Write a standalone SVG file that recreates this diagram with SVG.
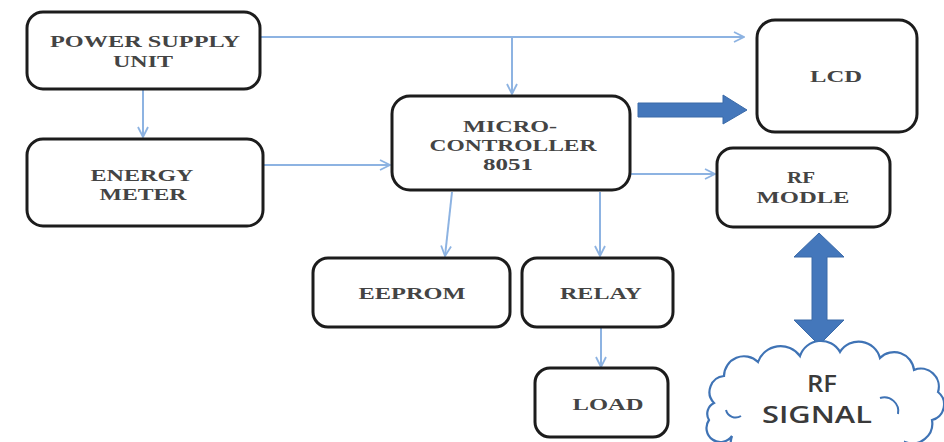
<svg xmlns="http://www.w3.org/2000/svg" width="944" height="442" viewBox="0 0 944 442">
  <style>
    .box { fill: #ffffff; stroke: #1c1c1c; stroke-width: 3; }
    .lbl { font-family: "Liberation Serif", "Times New Roman", serif; font-size: 17px; font-weight: bold; fill: #444444; text-anchor: middle; }
    .wire { fill: none; stroke: #8db3e2; stroke-width: 2; }
    .bus { fill: #4477bb; stroke: #3a6aa8; stroke-width: 1; }
    .cloud { fill: #ffffff; stroke: #3f73b5; stroke-width: 2.2; }
    .cloudtxt { font-family: "Open Sans", "Liberation Sans", sans-serif; font-size: 23px; font-weight: 600; fill: #3a3a3a; text-anchor: middle; }
  </style>
  <defs>
    <marker id="open" viewBox="0 0 12 12" refX="11" refY="6" markerWidth="12" markerHeight="12" markerUnits="userSpaceOnUse" orient="auto">
      <polyline points="1,1 11,6 1,11" fill="none" stroke="#8db3e2" stroke-width="1.8"/>
    </marker>
  </defs>
  <rect width="944" height="442" fill="#ffffff"/>

  <!-- connectors -->
  <g id="connectors">
    <line class="wire" x1="143" y1="90" x2="143" y2="137" marker-end="url(#open)"/>
    <line class="wire" x1="261" y1="37" x2="744" y2="37" marker-end="url(#open)"/>
    <line class="wire" x1="512" y1="37" x2="512" y2="94" marker-end="url(#open)"/>
    <line class="wire" x1="264" y1="165" x2="390" y2="165" marker-end="url(#open)"/>
    <line class="wire" x1="631" y1="174" x2="715" y2="174" marker-end="url(#open)"/>
    <line class="wire" x1="452" y1="192" x2="445" y2="256" marker-end="url(#open)"/>
    <line class="wire" x1="600" y1="192" x2="600" y2="256" marker-end="url(#open)"/>
    <line class="wire" x1="601" y1="328" x2="601" y2="367" marker-end="url(#open)"/>
    <!-- microcontroller to LCD data bus -->
    <polygon class="bus" points="638,103 723,103 723,95 747,110 723,124 723,117 638,117"/>
    <!-- RF module to RF signal -->
    <polygon class="bus" points="819,233 844,257 827,257 827,320 844,320 819,345 794,320 812,320 812,257 794,257"/>
  </g>

  <g id="power-supply">
    <rect class="box" x="27" y="12" width="233" height="77" rx="16"/>
    <text class="lbl" x="145" y="47" textLength="190" lengthAdjust="spacingAndGlyphs">POWER SUPPLY</text>
    <text class="lbl" x="143" y="67" textLength="60" lengthAdjust="spacingAndGlyphs">UNIT</text>
  </g>

  <g id="energy-meter">
    <rect class="box" x="27" y="139" width="236" height="87" rx="16"/>
    <text class="lbl" x="142" y="181" textLength="103" lengthAdjust="spacingAndGlyphs">ENERGY</text>
    <text class="lbl" x="143" y="200" textLength="87" lengthAdjust="spacingAndGlyphs">METER</text>
  </g>

  <g id="microcontroller">
    <rect class="box" x="392" y="96" width="238" height="94" rx="18"/>
    <text class="lbl" x="510" y="132" textLength="94" lengthAdjust="spacingAndGlyphs">MICRO-</text>
    <text class="lbl" x="513" y="151" textLength="167" lengthAdjust="spacingAndGlyphs">CONTROLLER</text>
    <text class="lbl" x="508" y="170" textLength="50" lengthAdjust="spacingAndGlyphs">8051</text>
  </g>

  <g id="lcd">
    <rect class="box" x="757" y="20" width="160" height="112" rx="18"/>
    <text class="lbl" x="836" y="82" textLength="52" lengthAdjust="spacingAndGlyphs">LCD</text>
  </g>

  <g id="rf-module">
    <rect class="box" x="717" y="148" width="173" height="79" rx="16"/>
    <text class="lbl" x="801" y="183" textLength="28" lengthAdjust="spacingAndGlyphs">RF</text>
    <text class="lbl" x="803" y="203" textLength="93" lengthAdjust="spacingAndGlyphs">MODLE</text>
  </g>

  <g id="eeprom">
    <rect class="box" x="313" y="258" width="197" height="69" rx="15"/>
    <text class="lbl" x="412" y="299" textLength="107" lengthAdjust="spacingAndGlyphs">EEPROM</text>
  </g>

  <g id="relay">
    <rect class="box" x="522" y="258" width="151" height="69" rx="15"/>
    <text class="lbl" x="601" y="299" textLength="82" lengthAdjust="spacingAndGlyphs">RELAY</text>
  </g>

  <g id="load">
    <rect class="box" x="535" y="368" width="133" height="69" rx="15"/>
    <text class="lbl" x="608" y="410" textLength="71" lengthAdjust="spacingAndGlyphs">LOAD</text>
  </g>

  <g id="rf-signal">
    <path class="cloud" d="M 714 403
      A 16 16 0 0 1 724 376
      A 20 20 0 0 1 758 362
      A 24 24 0 0 1 800 356
      A 22 22 0 0 1 840 352
      A 22 22 0 0 1 880 358
      A 20 20 0 0 1 914 370
      A 18 18 0 0 1 938 392
      A 16 16 0 0 1 932 420
      A 20 20 0 0 1 905 442
      A 26 26 0 0 1 858 450
      L 770 450
      A 20 20 0 0 1 732 436
      A 14 14 0 0 1 709 420
      A 12 12 0 0 1 714 403 Z"/>
    <path d="M 880 398 A 14 14 0 0 1 898 414" fill="none" stroke="#3f73b5" stroke-width="2"/>
    <path d="M 726 410 A 10 10 0 0 0 741 416" fill="none" stroke="#3f73b5" stroke-width="2"/>
    <text class="cloudtxt" x="822" y="392" textLength="30" lengthAdjust="spacingAndGlyphs">RF</text>
    <text class="cloudtxt" x="817" y="423" textLength="110" lengthAdjust="spacingAndGlyphs">SIGNAL</text>
  </g>
</svg>
